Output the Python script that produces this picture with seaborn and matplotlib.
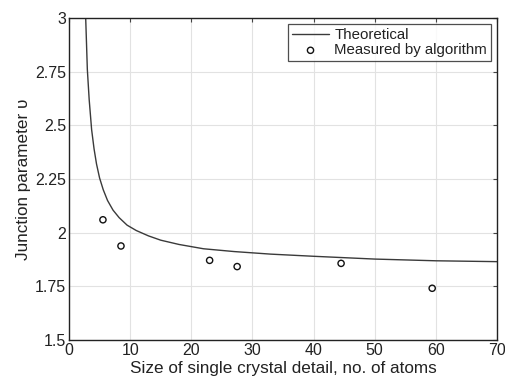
import matplotlib
matplotlib.use("Agg")
import matplotlib.pyplot as plt
import seaborn as sns
import pandas as pd

# Theoretical junction parameter curve
theory_size = [2.73, 3.0, 3.3, 3.7, 4.1, 4.5, 5.0, 5.6, 6.3, 7.2, 8.2, 9.5,
               11.0, 13.0, 15.0, 18.0, 22.0, 27.0, 33.0, 40.0, 50.0, 60.0, 70.0]
theory_u = [3.0, 2.76, 2.62, 2.48, 2.39, 2.32, 2.255, 2.20, 2.15, 2.105, 2.07,
            2.035, 2.01, 1.985, 1.965, 1.945, 1.925, 1.912, 1.90, 1.89, 1.877,
            1.869, 1.865]

# Values measured by the algorithm
measured_size = [5.55, 8.5, 23.0, 27.5, 44.5, 59.4]
measured_u = [2.06, 1.938, 1.871, 1.842, 1.857, 1.741]

x_ticks = [0, 10, 20, 30, 40, 50, 60, 70]
y_ticks = [1.5, 1.75, 2, 2.25, 2.5, 2.75, 3]
y_tick_labels = ["1.5", "1.75", "2", "2.25", "2.5", "2.75", "3"]

sns.set_theme(style="white")
plt.rcParams["font.family"] = ["Liberation Sans", "DejaVu Sans"]

fig = plt.figure(figsize=(5.05, 3.82), dpi=100)
ax = fig.add_axes([69 / 505, 42 / 382, 428 / 505, 322 / 382])

theory = pd.DataFrame({"size": theory_size, "u": theory_u})
measured = pd.DataFrame({"size": measured_size, "u": measured_u})

sns.lineplot(data=theory, x="size", y="u", ax=ax, color="#3a3a3a",
             linewidth=1.0, label="Theoretical", sort=False)
sns.scatterplot(data=measured, x="size", y="u", ax=ax, marker="o",
                facecolor="none", edgecolor="#111111", linewidth=1.0, s=20,
                label="Measured by algorithm", zorder=3)

ax.set_xlim(0, 70)
ax.set_ylim(1.5, 3)
ax.set_xticks(x_ticks)
ax.set_yticks(y_ticks)
ax.set_yticklabels(y_tick_labels)
ax.grid(True, color="#e2e2e2", linewidth=0.8)
ax.set_axisbelow(True)

for side in ax.spines.values():
    side.set_color("#222222")
    side.set_linewidth(1.0)

ax.tick_params(direction="in", length=3, width=0.8, color="#444444",
               top=True, right=True, labelsize=11.5, labelcolor="#222222", pad=2)

ax.set_xlabel("Size of single crystal detail, no. of atoms", fontsize=12.3,
              color="#222222", labelpad=2)
ax.set_ylabel("Junction parameter \u03c5", fontsize=12.3, color="#222222",
              labelpad=3)

leg = ax.legend(loc="upper right", fontsize=10.8, frameon=True, fancybox=False,
                borderaxespad=0.4, handlelength=2.5, handletextpad=0.35,
                borderpad=0.25, labelspacing=0.1)
leg.get_frame().set_edgecolor("#222222")
leg.get_frame().set_linewidth(0.9)
for t in leg.get_texts():
    t.set_color("#222222")

fig.savefig("out.png", dpi=100)
